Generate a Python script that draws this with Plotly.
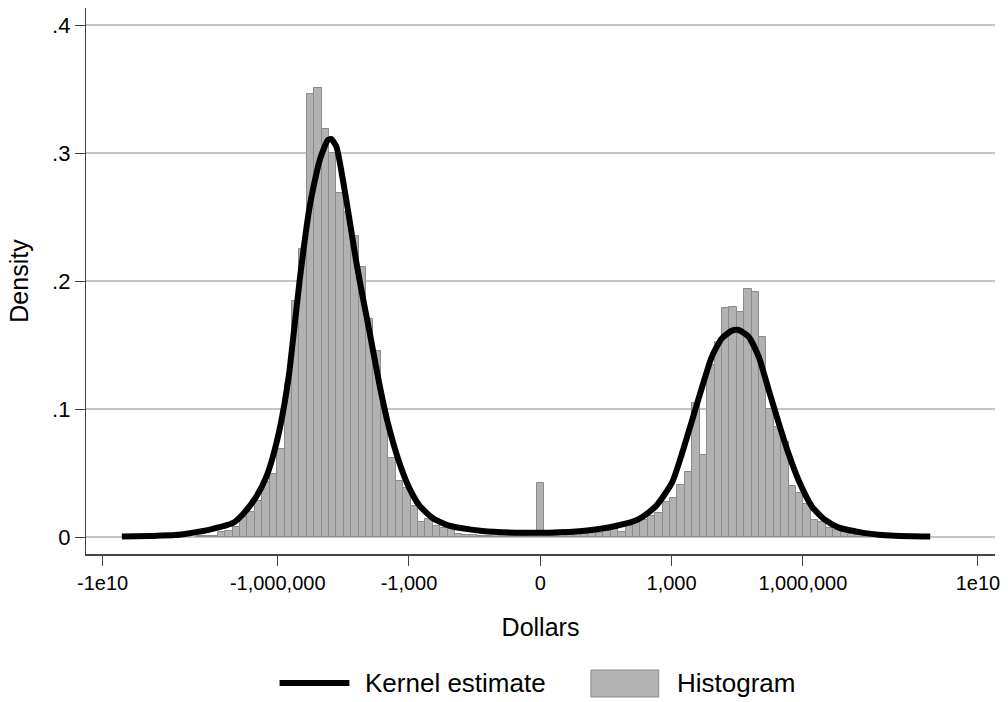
import plotly.graph_objects as go

# ---- Data (x in signed log10(1 + |dollars|) units) ----
bin_width = 0.1694
bin_first_index = -46
hist_density = [
    0.0004, 0.0007, 0.0010, 0.0037, 0.0047, 0.0076, 0.0154, 0.0198, 0.0284, 0.0432,   # -46..-37
    0.0490, 0.0687, 0.1200, 0.1840, 0.2250, 0.3460, 0.3510, 0.3190, 0.3000, 0.2690,   # -36..-27
    0.2540, 0.2350, 0.2110, 0.1700, 0.1450, 0.1000, 0.0620, 0.0440, 0.0380, 0.0240,   # -26..-17
    0.0115, 0.0140, 0.0086, 0.0068, 0.0060, 0.0023, 0.0013, 0.0013, 0.0005, 0.0005,   # -16..-7
    0.0013, 0.0013, 0.0010, 0.0015, 0.0010, 0.0013, 0.0420, 0.0013, 0.0005, 0.0013,   # -6..3
    0.0015, 0.0020, 0.0020, 0.0030, 0.0030, 0.0047, 0.0068, 0.0036, 0.0086, 0.0130,   # 4..13
    0.0135, 0.0164, 0.0185, 0.0276, 0.0302, 0.0410, 0.0510, 0.1044, 0.0640, 0.1340,   # 14..23
    0.1520, 0.1790, 0.1800, 0.1760, 0.1940, 0.1917, 0.1565, 0.0997, 0.0860, 0.0740,   # 24..33
    0.0400, 0.0346, 0.0258, 0.0133, 0.0120, 0.0068, 0.0055, 0.0042, 0.0020, 0.0012,   # 34..43
    0.0008, 0.0005, 0.0004, 0.0003,                                                   # 44..47
]

kde_x = [-9.56, -8.92, -8.35, -8.01, -7.55, -7.02, -6.79, -6.49, -6.26, -6.11,
         -5.96, -5.84, -5.73, -5.50, -5.27, -5.04, -4.855, -4.78, -4.66, -4.51,
         -4.36, -4.21, -4.06, -3.90, -3.68, -3.49, -3.22, -2.99, -2.76, -2.46,
         -2.08, -1.32, -0.56, 0.20, 0.96, 1.72, 2.25, 2.63, 3.01, 3.24,
         3.47, 3.70, 3.92, 4.15, 4.38, 4.53, 4.76, 4.99, 5.22, 5.45,
         5.67, 5.90, 6.21, 6.51, 6.81, 7.35, 7.73, 8.11, 8.91]
kde_y = [0.0003, 0.0008, 0.0015, 0.0030, 0.0058, 0.0110, 0.0180, 0.0315, 0.0470, 0.0627,
         0.0836, 0.1050, 0.1300, 0.2000, 0.2580, 0.2945, 0.3100, 0.3110, 0.3050, 0.2790,
         0.2480, 0.2160, 0.1880, 0.1600, 0.1200, 0.0900, 0.0580, 0.0380, 0.0245, 0.0148,
         0.0088, 0.0047, 0.0034, 0.0034, 0.0047, 0.0086, 0.0140, 0.0237, 0.0425, 0.0654,
         0.0914, 0.1174, 0.1409, 0.1552, 0.1612, 0.1617, 0.1565, 0.1409, 0.1148, 0.0888,
         0.0654, 0.0445, 0.0237, 0.0133, 0.0075, 0.0034, 0.0018, 0.0010, 0.0003]

x_tick_vals = [-10, -6, -3, 0, 3, 6, 10]
x_tick_text = ["-1e10", "-1,000,000", "-1,000", "0", "1,000", "1,000,000", "1e10"]
y_tick_vals = [0, 0.1, 0.2, 0.3, 0.4]
y_tick_text = ["0", ".1", ".2", ".3", ".4"]

bin_centers = [(bin_first_index + i) * bin_width for i in range(len(hist_density))]

BAR_FILL = "#b2b2b2"
BAR_LINE = "#8c8c8c"
FONT = "Liberation Sans, Arial, Helvetica, sans-serif"

fig = go.Figure()
fig.add_trace(go.Bar(
    x=bin_centers, y=hist_density, width=bin_width,
    marker=dict(color=BAR_FILL, line=dict(color=BAR_LINE, width=1)),
    name="Histogram", showlegend=False,
))
fig.add_trace(go.Scatter(
    x=kde_x, y=kde_y, mode="lines",
    line=dict(color="black", width=6, shape="spline", smoothing=0.6),
    name="Kernel estimate", showlegend=False,
))

fig.update_layout(
    width=1008, height=702,
    margin=dict(l=86, r=11, t=8, b=148),
    paper_bgcolor="white", plot_bgcolor="white",
    bargap=0,
    font=dict(family=FONT, size=20, color="black"),
    xaxis=dict(
        range=[-10.38, 10.39], tickmode="array", tickvals=x_tick_vals, ticktext=x_tick_text,
        showgrid=False, zeroline=False, showline=True, linecolor="#444444", linewidth=1.5,
        ticks="outside", ticklen=10, tickwidth=1.3, tickcolor="#444444",
        tickfont=dict(size=20),
        title=dict(text="Dollars", font=dict(size=25), standoff=26),
    ),
    yaxis=dict(
        range=[-0.01328, 0.41328], tickmode="array", tickvals=y_tick_vals, ticktext=y_tick_text,
        showgrid=True, gridcolor="#c4c4c4", gridwidth=2, zeroline=False,
        showline=True, linecolor="#444444", linewidth=1.3,
        ticks="outside", ticklen=10, tickwidth=1.3, tickcolor="#444444",
        tickfont=dict(size=22),
        title=dict(text="Density", font=dict(size=25), standoff=16),
    ),
)

# ---- Manual legend (Stata-style), positioned relative to the plot area ----
def px_x(p):
    return (p - 86) / 911.0

def px_y(p):
    return (554 - p) / 546.0

fig.add_shape(type="line", xref="paper", yref="paper",
              x0=px_x(280), x1=px_x(350), y0=px_y(683), y1=px_y(683),
              line=dict(color="black", width=6))
fig.add_annotation(xref="paper", yref="paper", x=px_x(364), y=px_y(683),
                   text="Kernel estimate", showarrow=False, xanchor="left", yanchor="middle",
                   font=dict(size=26))
fig.add_shape(type="rect", xref="paper", yref="paper",
              x0=px_x(592), x1=px_x(660), y0=px_y(697), y1=px_y(670),
              fillcolor=BAR_FILL, line=dict(color=BAR_LINE, width=1))
fig.add_annotation(xref="paper", yref="paper", x=px_x(676), y=px_y(683),
                   text="Histogram", showarrow=False, xanchor="left", yanchor="middle",
                   font=dict(size=26))

# Remove the page's default body margin so the figure sits at the window origin.
fig.write_html(
    "out.html",
    config={"displayModeBar": False},
    post_script="document.body.style.margin='0';document.body.style.overflow='hidden';",
)
